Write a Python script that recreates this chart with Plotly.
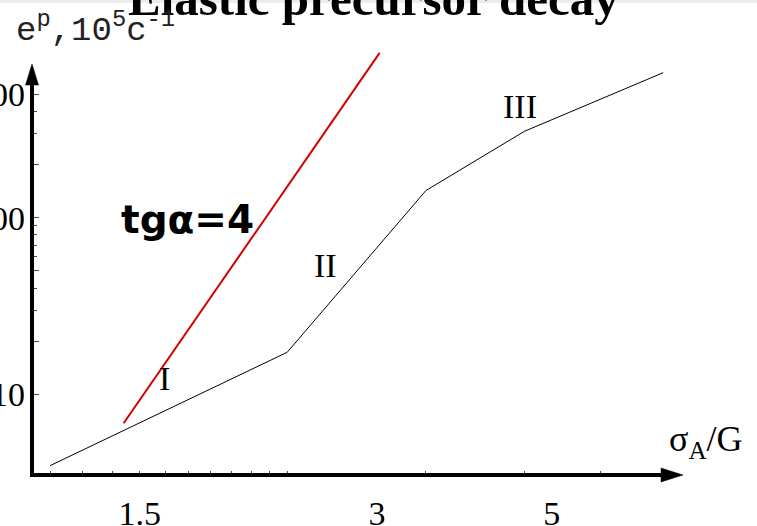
import numpy as np
import plotly.graph_objects as go

# ---- data ----
stage_x = [1.0, 2.0, 3.0, 4.0, 6.0]          # sigma_A / G
stage_y = [3.94, 17.3, 142.8, 309.0, 664.0]   # e^p, 10^5 c^-1
slope_x = [1.24, 2.62]
slope_y = [6.85, 860.0]

stage_labels = ["I", "II", "III"]
stage_label_x = [1.397, 2.237, 3.946]
stage_label_y = [12.3, 54.0, 424.6]
slope_label = "tg\u03b1=4"
slope_label_x = 1.496
slope_label_y = 97.7

x_tick_vals = [1.0, 1.1, 1.2, 1.3, 1.4, 1.5, 1.6, 1.7, 1.8, 1.9, 2.0, 3.0, 4.0, 5.0]
x_labels = {1.5: "1.5", 3.0: "3", 5.0: "5"}
y_major_vals = [10, 20, 50, 100, 200, 500]
y_major_text = ["10", "", "", "100", "", "500"]
y_minor_vals = [30, 40, 60, 70, 80, 90, 300, 400]

title = "Elastic precursor decay"
y_title = "e<sup>p</sup>,10<sup>5</sup>c<sup>-1</sup>"
x_title = "\u03c3<sub>A</sub>/G"

# ---- layout geometry (pixels) ----
W, H = 757, 526
L, R, T, B = 32, 67, 40, 51
PW, PH = W - L - R, H - T - B
x_px0, x_dec = 50.0, 788.0      # pixel of x=1, pixels per decade
y_px10, y_dec = 394.3, 176.5    # pixel of y=10, pixels per decade
xr = [(L - x_px0) / x_dec, (W - R - x_px0) / x_dec]
yr = [1 - (H - B - y_px10) / y_dec, 1 + (y_px10 - T) / y_dec]

def px(xp):
    return (xp - L) / PW

def py(yp):
    return (H - B - yp) / PH

serif = "Liberation Serif"

fig = go.Figure()
fig.add_trace(go.Scatter(x=stage_x, y=stage_y, mode="lines",
                         line=dict(color="black", width=1),
                         showlegend=False, hoverinfo="skip"))
fig.add_trace(go.Scatter(x=slope_x, y=slope_y, mode="lines",
                         line=dict(color="#d20000", width=2),
                         showlegend=False, hoverinfo="skip"))

x_text = [x_labels.get(v, "") for v in x_tick_vals]

fig.update_layout(
    template="none",
    width=W, height=H,
    margin=dict(l=L, r=R, t=T, b=B, pad=0),
    paper_bgcolor="white", plot_bgcolor="rgba(0,0,0,0)",
    showlegend=False,
    xaxis=dict(type="log", range=xr, automargin=False, showgrid=False, zeroline=False,
               showline=False, tickmode="array", tickvals=x_tick_vals, ticktext=x_text,
               ticks="inside", ticklen=4, tickwidth=1, tickcolor="#444",
               ticklabelshift=-49, ticklabelstandoff=15,
               tickfont=dict(family=serif, size=34, color="black")),
    yaxis=dict(type="log", range=yr, automargin=False, showgrid=False, zeroline=False,
               showline=False, tickmode="array", tickvals=y_major_vals, ticktext=y_major_text,
               ticks="inside", ticklen=6.5, tickwidth=1, tickcolor="#444",
               ticklabelstandoff=6,
               minor=dict(tickmode="array", tickvals=y_minor_vals, ticks="inside",
                          ticklen=4.5, tickwidth=1, tickcolor="#444", showgrid=False),
               tickfont=dict(family=serif, size=34, color="black")),
)

shapes = []
# faint band at top edge
shapes.append(dict(type="rect", xref="paper", yref="paper", x0=px(0), x1=px(W),
                   y0=py(0), y1=py(3), fillcolor="#ececec", line=dict(width=0), layer="below"))
# axes lines
shapes.append(dict(type="line", xref="paper", yref="paper", x0=px(30), x1=px(664),
                   y0=py(475), y1=py(475), line=dict(color="black", width=4)))
shapes.append(dict(type="line", xref="paper", yref="paper", x0=px(32), x1=px(32),
                   y0=py(477), y1=py(82), line=dict(color="black", width=4)))
# arrow heads
shapes.append(dict(type="path", xref="paper", yref="paper", xsizemode="pixel", ysizemode="pixel",
                   xanchor=px(683), yanchor=py(475), path="M0,0 L-22,7 L-22,-7 Z",
                   fillcolor="black", line=dict(color="black", width=0.5)))
shapes.append(dict(type="path", xref="paper", yref="paper", xsizemode="pixel", ysizemode="pixel",
                   xanchor=px(32), yanchor=py(64), path="M0,0 L-6.5,-21 L6.5,-21 Z",
                   fillcolor="black", line=dict(color="black", width=0.5)))
fig.update_layout(shapes=shapes)

ann = []
for t, xv, yv in zip(stage_labels, stage_label_x, stage_label_y):
    ann.append(dict(text=t, x=np.log10(xv), y=np.log10(yv), xref="x", yref="y",
                    showarrow=False, xanchor="center", yanchor="middle",
                    font=dict(family=serif, size=34, color="black")))
ann.append(dict(text="<b>" + slope_label + "</b>", x=np.log10(slope_label_x), y=np.log10(slope_label_y),
                xref="x", yref="y", showarrow=False, xanchor="center", yanchor="middle",
                font=dict(family="DejaVu Sans", size=39, color="black")))
ann.append(dict(text="<b>" + title + "</b>", x=px(373.5), y=py(-1.5), xref="paper", yref="paper",
                showarrow=False, xanchor="center", yanchor="middle",
                font=dict(family=serif, size=49, color="black")))
ann.append(dict(text=y_title, x=px(14), y=py(28), xref="paper", yref="paper",
                showarrow=False, xanchor="left", yanchor="middle",
                font=dict(family="Liberation Mono", size=34, color="#222")))
ann.append(dict(text=x_title, x=px(745), y=py(441), xref="paper", yref="paper",
                showarrow=False, xanchor="right", yanchor="middle",
                font=dict(family=serif, size=36, color="black")))
fig.update_layout(annotations=ann)

fig.write_html("out.html")
